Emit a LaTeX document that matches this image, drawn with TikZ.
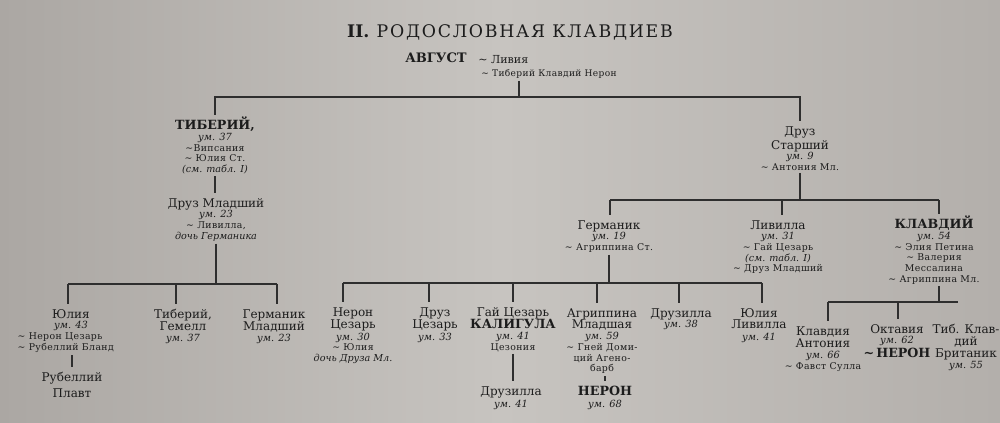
\documentclass[tikz,border=0pt]{standalone}
\usepackage{fontspec}
\setmainfont{DejaVu Serif}
\newfontfamily\titlefont[LetterSpace=10]{DejaVu Serif}
\newfontfamily\smallf[LetterSpace=4]{DejaVu Serif}
\definecolor{ink}{HTML}{1C1C1C}
\definecolor{lineink}{HTML}{2E2E2E}
\definecolor{paperL}{HTML}{C7C4C0}
\definecolor{paperD}{HTML}{ABA7A3}
\definecolor{paperR}{HTML}{B3AFAB}
\newcommand\sw{\textasciitilde}
\newcommand\nm[1]{{\rmfamily\fontsize{9}{8}\selectfont #1}}
\newcommand\bn[1]{{\rmfamily\fontsize{9.5}{8}\selectfont\bfseries #1}}
\newcommand\um[1]{{\rmfamily\fontsize{7.4}{8}\selectfont\itshape ум. #1}}
\newcommand\itl[1]{{\rmfamily\fontsize{7.2}{8}\selectfont\itshape #1}}
\newcommand\fs{\rule{0pt}{9pt}}
\newcommand\basef{\smallf\fontsize{7}{8}\selectfont\lineskiplimit=-50pt\lineskip=0pt}
\tikzset{
  person/.style={anchor=north, yshift=10.5pt, align=center, inner xsep=0pt,
    inner ysep=1.5pt, font=\basef, text=ink},
  link/.style={draw=lineink, line width=1pt},
  solo/.style={inner sep=0pt, text=ink}
}
\begin{document}
\begin{tikzpicture}[x=0.75pt,y=-0.75pt]
\shade[left color=paperD, right color=paperR, middle color=paperL] (0,0) rectangle (1000,423);
\useasboundingbox (0,0) rectangle (1000,423);

% title and root
\node[solo, anchor=base, font=\titlefont\fontsize{13}{15}\selectfont] (title) at (510,38)
  {{\addfontfeature{LetterSpace=0}\bfseries II.} РОДОСЛОВНАЯ КЛАВДИЕВ};
\node[solo, anchor=base, font=\bfseries\fontsize{9.8}{10}\selectfont] (augustus) at (436,63) {АВГУСТ};
\node[solo, anchor=base west, font=\fontsize{8.3}{9}\selectfont] (livia) at (478,64) {\sw\ Ливия};
\node[solo, anchor=base west, font=\smallf\fontsize{6.8}{8}\selectfont] (tcnero) at (481,77) {\sw\ Тиберий Клавдий Нерон};
\coordinate (m1) at (519,81);
\coordinate (bus1) at (519,97);

% generation 2
\node[person] (tiberius) at (215,129) {\fs\bn{ТИБЕРИЙ,}\\ \um{37}\\ \sw Випсания\\ \sw\ Юлия Ст.\\ \itl{(см. табл. I)}};
\node[person] (drusus) at (800,135) {\fs\nm{Друз}\\[2.5pt] \nm{Старший}\\ \um{9}\\ \sw\ Антония Мл.};
\node[person] (drusm) at (216,207) {\fs\nm{Друз Младший}\\ \um{23}\\ \sw\ Ливилла,\\ \itl{дочь Германика}};

% Tiberius line
\node[person] (julia) at (71,318) {\fs\nm{Юлия}\\ \um{43}\\ \makebox[80pt][l]{\sw\ Нерон Цезарь}\\ \makebox[80pt][l]{\sw\ Рубеллий Бланд}};
\node[person] (rub) at (72,381) {\fs\nm{Рубеллий}\\[4pt] \nm{Плавт}};
\node[person] (gemellus) at (183,318) {\fs\nm{Тиберий,}\\[1pt] \nm{Гемелл}\\[0.5pt] \um{37}};
\node[person] (germml) at (274,318) {\fs\nm{Германик}\\[1pt] \nm{Младший}\\[0.5pt] \um{23}};

% Drusus line
\node[person] (germanicus) at (609,229) {\fs\nm{Германик}\\ \um{19}\\ \sw\ Агриппина Ст.};
\node[person] (livilla) at (778,229) {\fs\nm{Ливилла}\\ \um{31}\\ \sw\ Гай Цезарь\\ \itl{(см. табл. I)}\\ \sw\ Друз Младший};
\node[person] (claudius) at (934,228) {\fs\bn{КЛАВДИЙ}\\ \um{54}\\ \sw\ Элия Петина\\ \sw\ Валерия\\ Мессалина\\ \sw\ Агриппина Мл.};

% Germanicus children
\node[person] (neroc) at (353,316) {\fs\nm{Нерон}\\[1pt] \nm{Цезарь}\\[1pt] \um{30}\\ \sw\ Юлия\\ \itl{дочь Друза Мл.}};
\node[person] (drusc) at (435,316) {\fs\nm{Друз}\\[1pt] \nm{Цезарь}\\[1pt] \um{33}};
\node[person] (caligula) at (513,316) {\fs\nm{Гай Цезарь}\\[1pt] \bn{КАЛИГУЛА}\\[0.5pt] \um{41}\\ Цезония};
\node[person] (drusillac) at (511,395) {\fs\nm{Друзилла}\\[1.2pt] \um{41}};
\node[person] (agrippina) at (602,317) {\fs\nm{Агриппина}\\[0.5pt] \nm{Младшая}\\[0.5pt] \um{59}\\ \sw\ Гней Доми-\\ ций Агено-\\ барб};
\node[person] (nero) at (605,395) {\fs\bn{НЕРОН}\\[1pt] \um{68}};
\node[person] (drusilla) at (681,317) {\fs\nm{Друзилла}\\ \um{38}};
\node[person] (julialiv) at (759,317) {\fs\nm{Юлия}\\[0.7pt] \nm{Ливилла}\\[0.5pt] \um{41}};

% Claudius children
\node[person] (claudia) at (823,335) {\fs\nm{Клавдия}\\[1pt] \nm{Антония}\\[0.5pt] \um{66}\\ \sw\ Фавст Сулла};
\node[person] (octavia) at (897,333) {\fs\nm{Октавия}\\ \um{62}\\[2pt] \bn{\sw\,НЕРОН}};
\node[person] (britannicus) at (966,333) {\fs\nm{Тиб. Клав-}\\[1pt] \nm{дий}\\[1.5pt] \nm{Британик}\\ \um{55}};

% connectors
\draw[link] (m1) -- (bus1);
\draw[link] (tiberius.north) |- (bus1) -| (drusus.north);
\draw[link] (tiberius.south) -- (tiberius.south |- drusm.north);

\coordinate (d2a) at (68,284);
\coordinate (d2b) at (176,284);
\coordinate (d2c) at (277,284);
\draw[link] (drusm.south) -- (drusm.south |- d2a);
\draw[link] (d2a) -- (d2c);
\draw[link] (d2a) -- (d2a |- julia.north);
\draw[link] (d2b) -- (d2b |- gemellus.north);
\draw[link] (d2c) -- (d2c |- germml.north);
\draw[link] (rub.north) -- (rub.north |- julia.south);

\coordinate (d3a) at (610,200);
\coordinate (d3b) at (782,200);
\coordinate (d3c) at (939,200);
\draw[link] (drusus.south) -- (drusus.south |- d3a);
\draw[link] (d3a) -- (d3c);
\draw[link] (d3a) -- (d3a |- germanicus.north);
\draw[link] (d3b) -- (d3b |- livilla.north);
\draw[link] (d3c) -- (d3c |- claudius.north);

\coordinate (n1) at (343,283);
\coordinate (n2) at (429,283);
\coordinate (n3) at (513,283);
\coordinate (n4) at (597,283);
\coordinate (n5) at (679,283);
\coordinate (n6) at (762,283);
\draw[link] (germanicus.south) -- (germanicus.south |- n1);
\draw[link] (n1) -- (n6);
\draw[link] (n1) -- (n1 |- neroc.north);
\draw[link] (n2) -- (n2 |- drusc.north);
\draw[link] (n3) -- (n3 |- caligula.north);
\draw[link] (n4) -- (n4 |- agrippina.north);
\draw[link] (n5) -- (n5 |- drusilla.north);
\draw[link] (n6) -- (n6 |- julialiv.north);
\draw[link] (caligula.south) -- (caligula.south |- drusillac.north);
\draw[link] (nero.north) -- (nero.north |- agrippina.south);

\coordinate (k0) at (939,302);
\coordinate (k1) at (828,302);
\coordinate (k2) at (898,302);
\coordinate (k3) at (958,302);
\draw[link] (k0) -- (k0 |- claudius.south);
\draw[link] (k1) -- (k3);
\draw[link] (k1) -- (k1 |- claudia.north);
\draw[link] (k2) -- (k2 |- octavia.north);
\end{tikzpicture}
\end{document}
